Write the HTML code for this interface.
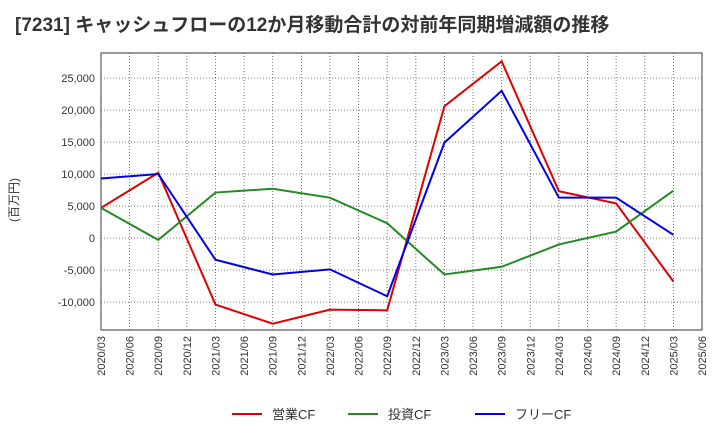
<!DOCTYPE html>
<html><head><meta charset="utf-8"><style>
body{margin:0;background:#fff;font-family:"Liberation Sans","Noto Sans CJK JP",sans-serif;}
svg text{font-family:"Liberation Sans","Noto Sans CJK JP",sans-serif;}
</style></head><body>
<svg id="chart" width="720" height="440">
<text x="15" y="31" font-size="19" font-weight="bold" fill="#333">[7231]  キャッシュフローの12か月移動合計の対前年同期増減額の推移</text>
<text transform="translate(18,200) rotate(-90)" font-size="12" fill="#333" text-anchor="middle">(百万円)</text>
<g id="grid"></g><g id="axes"></g><g id="series"></g><g id="legend"></g>
</svg>
<script>
const xLabels=["2020/03","2020/06","2020/09","2020/12","2021/03","2021/06","2021/09","2021/12","2022/03","2022/06","2022/09","2022/12","2023/03","2023/06","2023/09","2023/12","2024/03","2024/06","2024/09","2024/12","2025/03","2025/06"];
const pointIdx=[0,2,4,6,8,10,12,14,16,18,20];
const operatingCF=[4700,10200,-10400,-13400,-11200,-11300,20600,27600,7300,5400,-6800];
const investingCF=[4700,-300,7100,7700,6300,2300,-5700,-4500,-1000,1000,7400];
const freeCF=[9300,10000,-3400,-5700,-4900,-9100,14900,23000,6300,6300,500];
const yTicks=[-10000,-5000,0,5000,10000,15000,20000,25000];
const seriesNames=["営業CF","投資CF","フリーCF"];
const colors=["#e00000","#228b22","#0000ee"];
const L=101,R=702,T=53,B=330;
const x=i=>L+i*(R-L)/21;
const y=v=>238-v*6.4/1000;
const NS="http://www.w3.org/2000/svg";
function mk(tag,attrs,parent){const e=document.createElementNS(NS,tag);for(const k in attrs)e.setAttribute(k,attrs[k]);parent.appendChild(e);return e;}
const g=document.getElementById('grid'),a=document.getElementById('axes'),s=document.getElementById('series'),lg=document.getElementById('legend');
const bg=mk('rect',{x:L,y:T,width:R-L,height:B-T,fill:'#fff',stroke:'#333'},g);


xLabels.forEach((lb,i)=>{
 const ln=mk('line',{x1:x(i),x2:x(i),y1:T,y2:B,stroke:'#555','stroke-dasharray':'1,2','stroke-width':0.8},g);
 
 
 const t=mk('text',{transform:`translate(${x(i)+4},${B+6}) rotate(-90)`,'font-size':11,fill:'#333','text-anchor':'end'},a);
 t.textContent=lb;
 
 
});
yTicks.forEach(v=>{
 const ln=mk('line',{x1:L,x2:R,y1:y(v),y2:y(v),stroke:'#555','stroke-dasharray':'1,2','stroke-width':0.8},g);
 
 
 const t=mk('text',{x:L-6,y:y(v)+4,'font-size':11,fill:'#333','text-anchor':'end'},a);
 t.textContent=v.toLocaleString('en-US');
 
 
});
[operatingCF,investingCF,freeCF].forEach((d,k)=>{
 const pts=d.map((v,j)=>x(pointIdx[j])+','+y(v)).join(' ');
 const p=mk('polyline',{points:pts,fill:'none',stroke:colors[k],'stroke-width':2},s);
 
 
});
const lx=[232,348,475];
seriesNames.forEach((n,k)=>{
 const ln=mk('line',{x1:lx[k],x2:lx[k]+30,y1:414,y2:414,stroke:colors[k],'stroke-width':2},lg);
 
 
 const t=mk('text',{x:lx[k]+40,y:419,'font-size':13,fill:'#333'},lg);
 t.textContent=n;
 
 
});
</script>
</body></html>
